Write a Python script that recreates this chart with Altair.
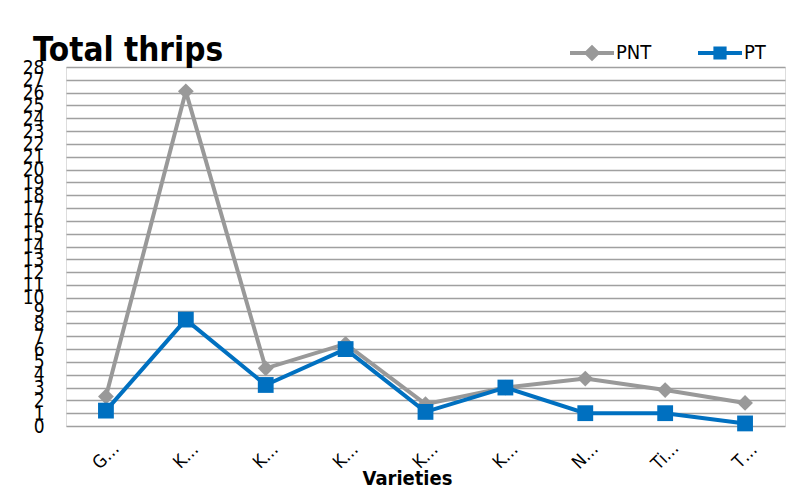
import altair as alt
import pandas as pd

labels = ["G…", "K…", "K…", "K…", "K…", "K…", "N…", "Ti…", "T…"]
series_names = ["PNT", "PT"]
pnt = [2.3, 26.1, 4.5, 6.4, 1.7, 3.0, 3.7, 2.8, 1.8]
pt = [1.2, 8.3, 3.2, 6.0, 1.1, 3.0, 1.0, 1.0, 0.2]
colors = ["#999999", "#0070C0"]

rows = []
for i in range(len(labels)):
    rows.append({"idx": i, "series": "PNT", "key": "PNT", "value": pnt[i]})
for i in range(len(labels)):
    rows.append({"idx": i, "series": "PT", "key": "PT", "value": pt[i]})
df = pd.DataFrame(rows)

FONT = "Liberation Sans Narrow, DejaVu Sans Condensed, sans-serif"
label_expr = "[" + ",".join("'" + l + "'" for l in labels) + "][datum.value]"

x = alt.X(
    "idx:O",
    title="Varieties",
    axis=alt.Axis(
        labelExpr=label_expr, labelAngle=-45, labelAlign="center", labelBaseline="middle",
        labelPadding=30, ticks=False, domain=False, labelFont=FONT, labelFontSize=18,
        labelColor="#000000", titleFont=FONT, titleFontSize=20, titleFontWeight="bold",
        titleColor="#000000", titleX=341, titleY=58, titleBaseline="alphabetic",
    ),
)
y = alt.Y(
    "value:Q",
    title=None,
    scale=alt.Scale(domain=[0, 28], nice=False),
    axis=alt.Axis(
        values=list(range(29)), labelOverlap=False, labelFlush=False, ticks=False,
        domain=False, labelFont=FONT, labelFontSize=19, labelColor="#000000",
        labelPadding=22, labelBaseline="middle", gridColor="#a0a0a0", gridWidth=1.5,
    ),
)
color_scale = alt.Scale(domain=series_names, range=colors)

base = alt.Chart(df)
lines = base.mark_line(strokeWidth=4).encode(
    x=x, y=y, color=alt.Color("series:N", scale=color_scale, legend=None),
    detail="series:N",
)
points = base.mark_point(filled=True, size=250, opacity=1).encode(
    x=x, y=y,
    color=alt.Color("series:N", scale=color_scale, legend=None),
    shape=alt.Shape("series:N", scale=alt.Scale(domain=series_names, range=["diamond", "square"]), legend=None),
)

legend_paths = [
    "M-1,-0.09H1V0.09H-1Z M0,-0.38L0.38,0L0,0.38L-0.38,0Z",
    "M-1,-0.09H1V0.09H-1Z M-0.3,-0.3H0.3V0.3H-0.3Z",
]
leg = dict(
    orient="none", legendX=504, legendY=-36, direction="horizontal", title=None,
    symbolSize=1936, symbolStrokeWidth=0, symbolOpacity=1, labelFont=FONT,
    labelFontSize=20, labelColor="#000000", padding=0, columnPadding=46, labelOffset=2,
)
legend_layer = base.transform_filter("false").mark_point(filled=True).encode(
    color=alt.Color("key:N", scale=color_scale, legend=alt.Legend(**leg)),
    shape=alt.Shape("key:N", scale=alt.Scale(domain=series_names, range=legend_paths), legend=alt.Legend(**leg)),
)

chart = alt.layer(lines, points, legend_layer).resolve_scale(
    color="independent", shape="independent"
).properties(
    width=719, height=359,
    autosize=alt.AutoSizeParams(type="none"),
    padding={"left": 58, "top": 59, "right": 1, "bottom": 62},
    title=alt.TitleParams(
        "Total thrips", anchor="start", frame="group", dx=-33, dy=63, fontSize=33, font=FONT,
        fontWeight="bold", baseline="alphabetic", offset=0, color="#000000",
    ),
).configure_view(stroke="#a0a0a0", strokeWidth=2).configure(background="white")

chart.save("out.html", embed_options={"renderer": "svg", "actions": False})
